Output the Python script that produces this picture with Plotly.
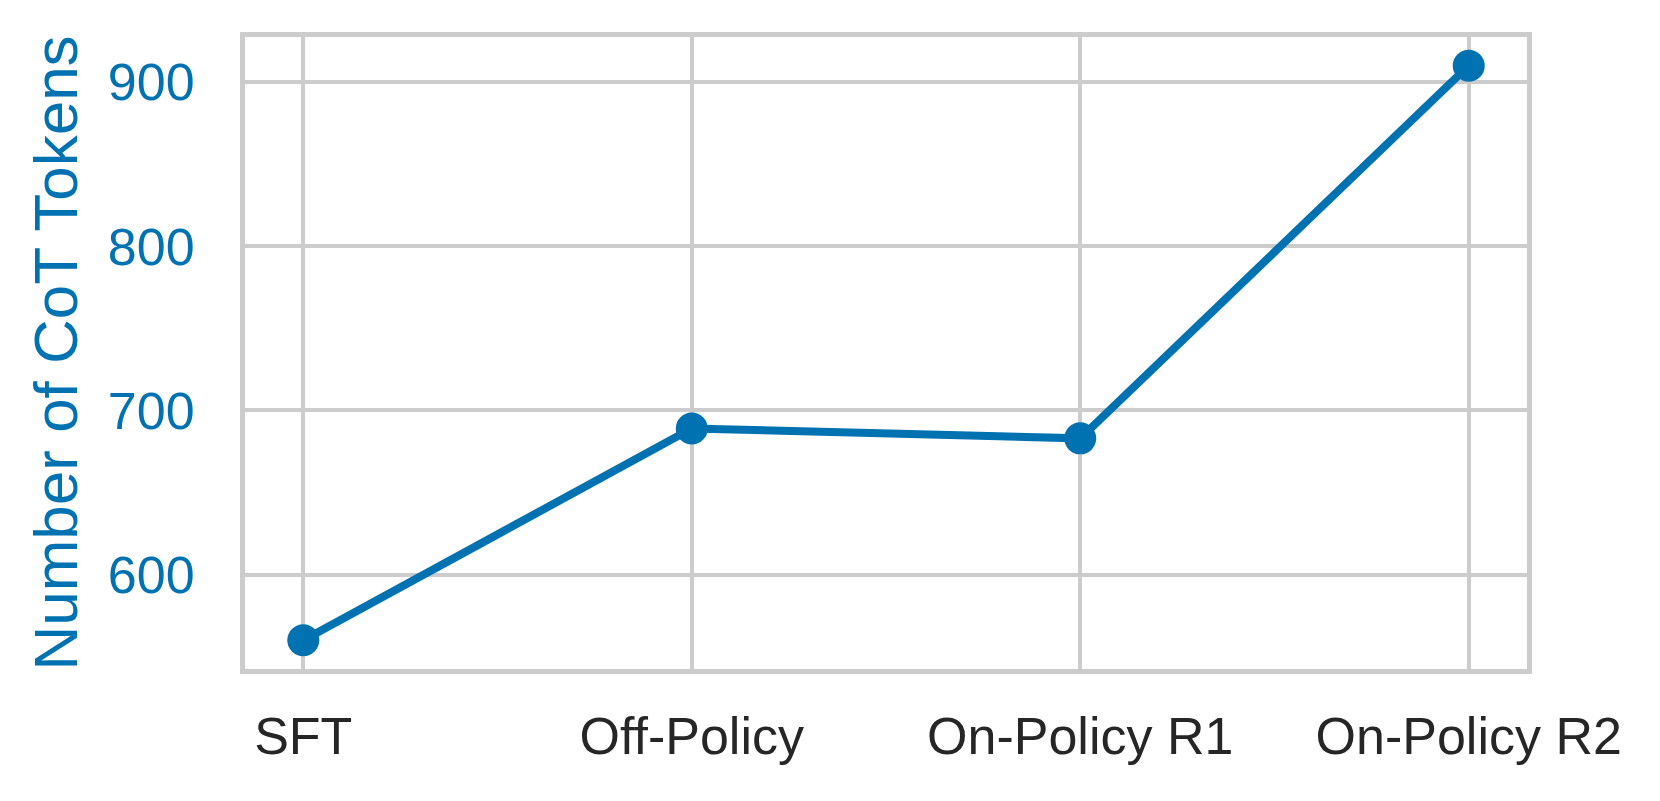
import plotly.graph_objects as go

categories = ["SFT", "Off-Policy", "On-Policy R1", "On-Policy R2"]
cot_tokens = [560, 689, 683, 910]
y_ticks = [600, 700, 800, 900]

BLUE = "#0072B2"
GRID = "#cccccc"

x_pos = list(range(len(categories)))
ymin, ymax = min(cot_tokens), max(cot_tokens)
pad = 0.05 * (ymax - ymin)
xpad = 0.05 * (len(categories) - 1)

fig = go.Figure(
    go.Scatter(
        x=x_pos, y=cot_tokens, mode="lines+markers",
        line=dict(color=BLUE, width=8),
        marker=dict(color=BLUE, size=32),
        showlegend=False,
    )
)

fig.update_layout(
    width=1660, height=801,
    margin=dict(l=237, r=141, t=29, b=140, autoexpand=False),
    paper_bgcolor="white", plot_bgcolor="white",
    font=dict(family="Liberation Sans, Arial, sans-serif", size=52, color="#262626"),
)

fig.update_xaxes(
    range=[-xpad, len(categories) - 1 + xpad],
    tickvals=x_pos, ticktext=categories,
    showgrid=True, gridcolor=GRID, gridwidth=4,
    showline=True, linecolor=GRID, linewidth=5, mirror=True,
    zeroline=False, ticks="", ticklabelstandoff=18,
    tickfont=dict(size=52, color="#262626"),
)
fig.update_yaxes(
    range=[ymin - pad, ymax + pad],
    tickvals=y_ticks,
    showgrid=True, gridcolor=GRID, gridwidth=4,
    showline=True, linecolor=GRID, linewidth=5, mirror=True,
    zeroline=False, ticks="", ticklabelstandoff=35,
    tickfont=dict(size=52, color=BLUE),
    title=dict(text="Number of CoT Tokens", font=dict(size=62, color=BLUE), standoff=12),
)

fig.write_html("out.html")
